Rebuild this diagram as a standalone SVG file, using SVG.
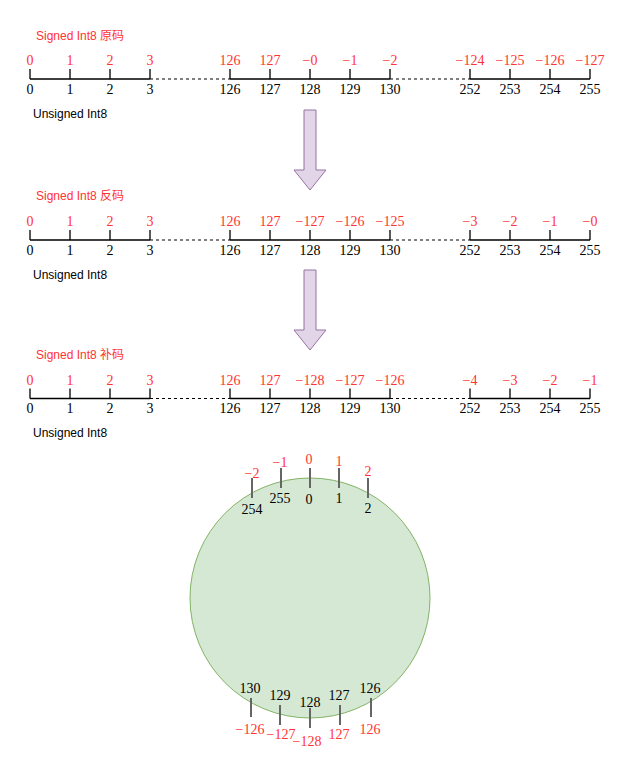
<svg xmlns="http://www.w3.org/2000/svg" width="628" height="781" viewBox="0 0 628 781">
<style>
.ax{stroke:#000;stroke-width:1.3;fill:none}
.dash{stroke:#000;stroke-width:1.2;stroke-dasharray:3 3;fill:none}
.tk{stroke:#000;stroke-width:1.3}
.ctk{stroke:#666;stroke-width:2}
.m{font-family:"Liberation Serif","DejaVu Serif",serif;font-size:14px;text-anchor:middle}
.r{fill:#FF3333}
.b{fill:#000}
.lab{font-family:"Liberation Sans",Arial,"Noto Sans CJK SC",sans-serif;font-size:12px}
.arr{fill:#e1d5e7;stroke:#9673a6;stroke-width:1}
</style>
<rect width="628" height="781" fill="#fff"/>

<g id="line-yuanma">
<text class="lab r" x="36" y="39.5">Signed Int8 原码</text>
<text class="lab b" x="33" y="117.5">Unsigned Int8</text>
<path class="ax" d="M30 79H150M230 79H390M470 79H590"/>
<path class="dash" d="M150 79H230M390 79H470"/>
<path class="tk" d="M30 69V79M70 69V79M110 69V79M150 69V79M230 69V79M270 69V79M310 69V79M350 69V79M390 69V79M470 69V79M510 69V79M550 69V79M590 69V79"/>
<g class="m r">
<text x="30" y="65">0</text><text x="70" y="65">1</text><text x="110" y="65">2</text><text x="150" y="65">3</text>
<text x="230" y="65">126</text><text x="270" y="65">127</text><text x="310" y="65">−0</text><text x="350" y="65">−1</text><text x="390" y="65">−2</text>
<text x="470" y="65">−124</text><text x="510" y="65">−125</text><text x="550" y="65">−126</text><text x="590" y="65">−127</text>
</g>
<g class="m b">
<text x="30" y="94">0</text><text x="70" y="94">1</text><text x="110" y="94">2</text><text x="150" y="94">3</text>
<text x="230" y="94">126</text><text x="270" y="94">127</text><text x="310" y="94">128</text><text x="350" y="94">129</text><text x="390" y="94">130</text>
<text x="470" y="94">252</text><text x="510" y="94">253</text><text x="550" y="94">254</text><text x="590" y="94">255</text>
</g>
</g>

<g id="line-fanma">
<text class="lab r" x="36" y="200">Signed Int8 反码</text>
<text class="lab b" x="33" y="279">Unsigned Int8</text>
<path class="ax" d="M30 240H150M230 240H390M470 240H590"/>
<path class="dash" d="M150 240H230M390 240H470"/>
<path class="tk" d="M30 230V240M70 230V240M110 230V240M150 230V240M230 230V240M270 230V240M310 230V240M350 230V240M390 230V240M470 230V240M510 230V240M550 230V240M590 230V240"/>
<g class="m r">
<text x="30" y="226">0</text><text x="70" y="226">1</text><text x="110" y="226">2</text><text x="150" y="226">3</text>
<text x="230" y="226">126</text><text x="270" y="226">127</text><text x="310" y="226">−127</text><text x="350" y="226">−126</text><text x="390" y="226">−125</text>
<text x="470" y="226">−3</text><text x="510" y="226">−2</text><text x="550" y="226">−1</text><text x="590" y="226">−0</text>
</g>
<g class="m b">
<text x="30" y="255">0</text><text x="70" y="255">1</text><text x="110" y="255">2</text><text x="150" y="255">3</text>
<text x="230" y="255">126</text><text x="270" y="255">127</text><text x="310" y="255">128</text><text x="350" y="255">129</text><text x="390" y="255">130</text>
<text x="470" y="255">252</text><text x="510" y="255">253</text><text x="550" y="255">254</text><text x="590" y="255">255</text>
</g>
</g>

<g id="line-buma">
<text class="lab r" x="36" y="358.5">Signed Int8 补码</text>
<text class="lab b" x="33" y="436.5">Unsigned Int8</text>
<path class="ax" d="M30 398.5H150M230 398.5H390M470 398.5H590"/>
<path class="dash" d="M150 398.5H230M390 398.5H470"/>
<path class="tk" d="M30 388.5V398.5M70 388.5V398.5M110 388.5V398.5M150 388.5V398.5M230 388.5V398.5M270 388.5V398.5M310 388.5V398.5M350 388.5V398.5M390 388.5V398.5M470 388.5V398.5M510 388.5V398.5M550 388.5V398.5M590 388.5V398.5"/>
<g class="m r">
<text x="30" y="384.5">0</text><text x="70" y="384.5">1</text><text x="110" y="384.5">2</text><text x="150" y="384.5">3</text>
<text x="230" y="384.5">126</text><text x="270" y="384.5">127</text><text x="310" y="384.5">−128</text><text x="350" y="384.5">−127</text><text x="390" y="384.5">−126</text>
<text x="470" y="384.5">−4</text><text x="510" y="384.5">−3</text><text x="550" y="384.5">−2</text><text x="590" y="384.5">−1</text>
</g>
<g class="m b">
<text x="30" y="413">0</text><text x="70" y="413">1</text><text x="110" y="413">2</text><text x="150" y="413">3</text>
<text x="230" y="413">126</text><text x="270" y="413">127</text><text x="310" y="413">128</text><text x="350" y="413">129</text><text x="390" y="413">130</text>
<text x="470" y="413">252</text><text x="510" y="413">253</text><text x="550" y="413">254</text><text x="590" y="413">255</text>
</g>
</g>

<g id="connectors">
<path class="arr" d="M304 110H316V170H326L310 190L294 170H304Z"/>
<path class="arr" d="M304 270H316V330H326L310 350L294 330H304Z"/>
</g>

<g id="ring">
<circle cx="310" cy="598" r="120" fill="#d5e8d4" stroke="#82b366" stroke-width="1"/>
<path class="ctk" d="M252 478V498M281 468V488M310 468V488M339 468V488M368 478V498"/>
<path class="ctk" d="M251 698V717M280 705V725M310 708V728M340 705V725M371 698V717"/>
<g class="m r">
<text x="252" y="477.5">−2</text><text x="280" y="466.5">−1</text><text x="309" y="463.5">0</text><text x="339" y="466">1</text><text x="368" y="476">2</text>
<text x="250" y="733.5">−126</text><text x="281" y="738.5">−127</text><text x="307" y="746">−128</text><text x="339" y="738.5">127</text><text x="370" y="733.5">126</text>
</g>
<g class="m b">
<text x="252" y="513.5">254</text><text x="280" y="503">255</text><text x="309" y="503.5">0</text><text x="339" y="503">1</text><text x="368" y="513">2</text>
<text x="250" y="692.5">130</text><text x="280" y="700">129</text><text x="310" y="706.5">128</text><text x="339" y="700">127</text><text x="370" y="692.5">126</text>
</g>
</g>
</svg>
